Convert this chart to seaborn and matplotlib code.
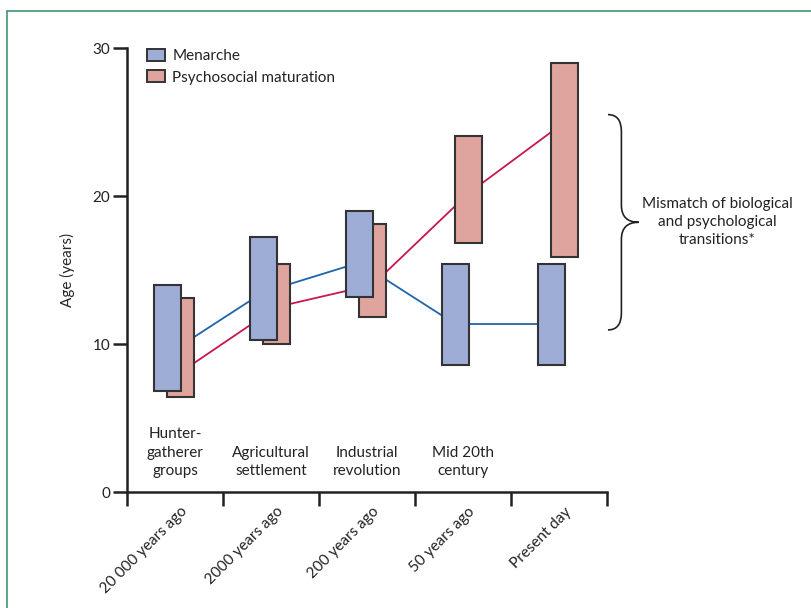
import numpy as np
import pandas as pd
import matplotlib
matplotlib.use("Agg")
import matplotlib.pyplot as plt
from matplotlib.patches import Patch, PathPatch
from matplotlib.path import Path
from matplotlib.lines import Line2D
import seaborn as sns

# x categories
eras = ["20 000 years ago", "2000 years ago", "200 years ago", "50 years ago", "Present day"]
stages = ["Hunter-\ngatherer\ngroups", "Agricultural\nsettlement", "Industrial\nrevolution",
          "Mid 20th\ncentury", ""]

# age ranges (years)
menarche_low = [6.8, 10.3, 13.15, 8.6, 8.6]
menarche_high = [14.0, 17.2, 19.0, 15.4, 15.4]
psych_low = [6.4, 10.0, 11.8, 16.8, 15.9]
psych_high = [13.1, 15.4, 18.1, 24.05, 29.0]

# trend lines
menarche_line = [9.3, 13.5, 15.5, 11.35, 11.35]
psych_line = [8.1, 12.5, 14.0, 20.2, 25.0]

sns.set_theme(style="ticks")
plt.rcParams['font.family'] = ['Lato', 'DejaVu Sans']
plt.rcParams['text.color'] = '#222222'
plt.rcParams['xtick.color'] = '#222222'
plt.rcParams['ytick.color'] = '#222222'

blue_fill = '#9dadd6'
pink_fill = '#e0a49f'
edge = '#333333'
blue_line = '#1f64aa'
red_line = '#c8174a'

fig = plt.figure(figsize=(8.11, 6.08), dpi=100)
ax = fig.add_axes([127/811, 1 - 492/608, 480/811, 444/608])

x = np.arange(len(eras))
xb = x - 0.08
xp = x + 0.06

df = pd.DataFrame({'xb': xb, 'xp': xp, 'm': menarche_line, 'p': psych_line})
sns.lineplot(data=df, x='xb', y='m', color=blue_line, lw=1.3, ax=ax, zorder=1)
sns.lineplot(data=df, x='xp', y='p', color=red_line, lw=1.3, ax=ax, zorder=1)

ax.bar(xp, np.subtract(psych_high, psych_low), bottom=psych_low, width=0.28,
       color=pink_fill, edgecolor=edge, linewidth=1.5, zorder=2)
ax.bar(xb, np.subtract(menarche_high, menarche_low), bottom=menarche_low, width=0.28,
       color=blue_fill, edgecolor=edge, linewidth=1.5, zorder=3)

for i, s in enumerate(stages):
    ax.text(i, 1.15, s, ha='center', va='baseline', fontsize=11, linespacing=1.4)

ax.set_xlim(-0.5, 4.5)
ax.set_ylim(0, 30)
ax.set_yticks([0, 10, 20, 30])
ax.set_xticks(np.arange(-0.5, 5, 1))
ax.set_xticklabels([])
# rotated labels sit a little right of each era centre
ax.set_xticks(x + 0.05, minor=True)
ax.set_xticklabels(eras, minor=True, rotation=45, ha='right', va='top',
                   rotation_mode='anchor', fontsize=11)
ax.tick_params(axis='x', which='minor', length=0, pad=9)
ax.tick_params(axis='both', which='major', length=10, width=1.8, labelsize=11, pad=2)
ax.set_xlabel('')
ax.set_ylabel('Age (years)', fontsize=11)
ax.yaxis.set_label_coords(-0.108, 0.5)
sns.despine(ax=ax)
for sp in ['left', 'bottom']:
    ax.spines[sp].set_linewidth(1.8)
    ax.spines[sp].set_color('#222222')

# brace between the two present-day trend values
ytop = psych_line[-1] + 0.5
ybot = menarche_line[-1] - 0.4
ymid = (ytop + ybot) / 2
x0, x1, x2 = 4.51, 4.65, 4.83
r = 1.15
verts = [(x0, ytop), (x1, ytop), (x1, ytop - r),
         (x1, ymid + r),
         (x1, ymid), (x2, ymid),
         (x1, ymid), (x1, ymid - r),
         (x1, ybot + r),
         (x1, ybot), (x0, ybot)]
codes = [Path.MOVETO, Path.CURVE3, Path.CURVE3,
         Path.LINETO,
         Path.CURVE3, Path.CURVE3,
         Path.CURVE3, Path.CURVE3,
         Path.LINETO,
         Path.CURVE3, Path.CURVE3]
ax.add_patch(PathPatch(Path(verts, codes), fill=False, edgecolor='#222222', lw=1.2, clip_on=False))
ax.text(5.646, ymid, "Mismatch of biological\nand psychological\ntransitions*",
        ha='center', va='center', fontsize=11, linespacing=1.35, clip_on=False)

handles = [Patch(facecolor=blue_fill, edgecolor=edge, lw=1.4, label='Menarche'),
           Patch(facecolor=pink_fill, edgecolor=edge, lw=1.4, label='Psychosocial maturation')]
fig.legend(handles=handles, loc='upper left', bbox_to_anchor=(147/811, 1 - 49/608),
           frameon=False, borderpad=0, borderaxespad=0, handlelength=1.2,
           handleheight=0.85, handletextpad=0.45, labelspacing=0.45, fontsize=11)

# green frame
fig.add_artist(Line2D([7/811, 1], [1 - 11/608] * 2, transform=fig.transFigure,
                      color='#3b9a6c', lw=1.2))
fig.add_artist(Line2D([7/811] * 2, [0, 1 - 11/608], transform=fig.transFigure,
                      color='#3b9a6c', lw=1.2))

fig.savefig('out.png', dpi=100)
